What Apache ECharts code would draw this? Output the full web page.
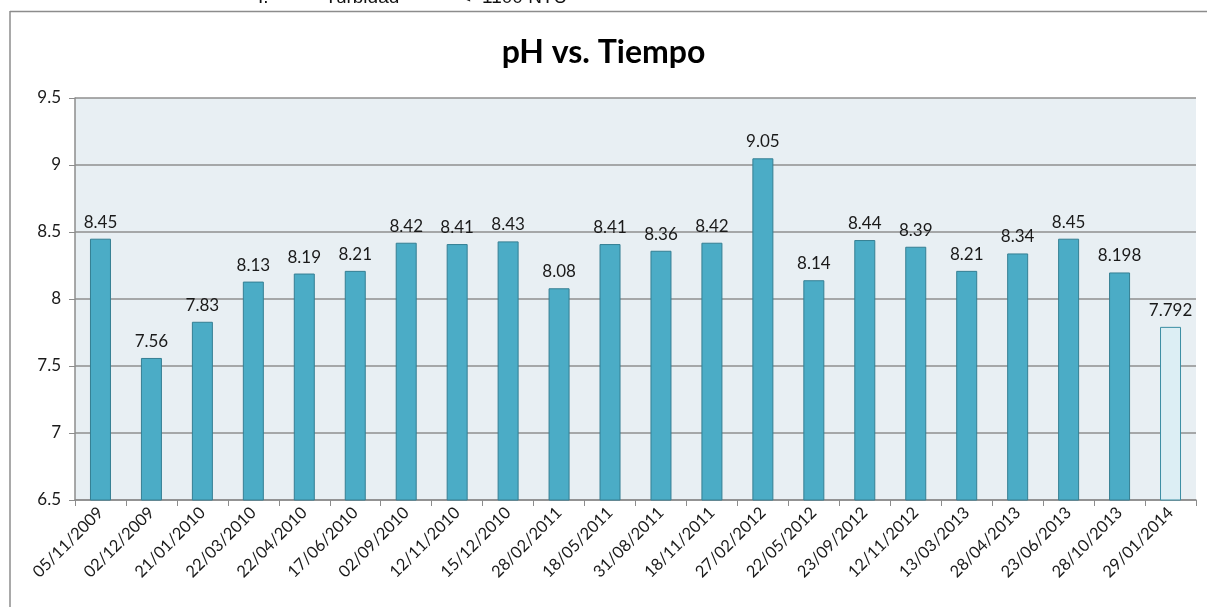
<!DOCTYPE html>
<html>
<head>
<meta charset="utf-8">
<script src="https://cdn.jsdelivr.net/npm/echarts@6/dist/echarts.min.js"></script>
<style>
    html, body { margin: 0; padding: 0; background: #fff; overflow: hidden; }
    #chart { width: 1207px; height: 607px; }
</style>
</head>
<body>
<div id="chart"></div>
<script>
// fechas de muestreo
const fechas = ['05/11/2009', '02/12/2009', '21/01/2010', '22/03/2010', '22/04/2010', '17/06/2010',
    '02/09/2010', '12/11/2010', '15/12/2010', '28/02/2011', '18/05/2011', '31/08/2011',
    '18/11/2011', '27/02/2012', '22/05/2012', '23/09/2012', '12/11/2012', '13/03/2013',
    '28/04/2013', '23/06/2013', '28/10/2013', '29/01/2014'];
const ph = [8.45, 7.56, 7.83, 8.13, 8.19, 8.21, 8.42, 8.41, 8.43, 8.08, 8.41, 8.36,
    8.42, 9.05, 8.14, 8.44, 8.39, 8.21, 8.34, 8.45, 8.198, 7.792];
const yTicks = [6.5, 7, 7.5, 8, 8.5, 9, 9.5];

const font = 'Lato, "Open Sans", sans-serif';
const myChart = echarts.init(document.getElementById('chart'));

const barData = ph.map((v, i) => {
    if (i === ph.length - 1) {
        return { value: v, itemStyle: { color: '#DCEEF4', borderColor: '#3B8EA3' } };
    }
    return v;
});

const frameStyle = { stroke: '#8c8c8c', lineWidth: 1.5 };

const option = {
    animation: false,
    textStyle: { fontFamily: font, color: '#1a1a1a' },
    title: {
        text: 'pH vs. Tiempo',
        left: 'center',
        top: 32,
        textStyle: { fontSize: 32, fontWeight: 'bold', color: '#000', fontFamily: font }
    },
    graphic: [
        // marco del gráfico (solo arriba e izquierda son visibles)
        { type: 'line', shape: { x1: 10, y1: 11.5, x2: 1207, y2: 11.5 }, style: frameStyle },
        { type: 'line', shape: { x1: 10, y1: 11, x2: 10, y2: 607 }, style: frameStyle },
        // texto del documento recortado arriba
        { type: 'text', left: 258, top: -12, style: { text: 'I.', fontSize: 19, fill: '#111', fontFamily: 'Liberation Sans' } },
        { type: 'text', left: 325, top: -12, style: { text: 'Turbidad', fontSize: 19, fill: '#111', fontFamily: 'Liberation Sans' } },
        { type: 'text', left: 460, top: -12, style: { text: '<', fontSize: 19, fill: '#111', fontFamily: 'Liberation Sans' } },
        { type: 'text', left: 482, top: -12, style: { text: '1100 NTU', fontSize: 19, fill: '#111', fontFamily: 'Liberation Sans' } }
    ],
    grid: {
        left: 75,
        right: 11,
        top: 98,
        bottom: 107,
        show: true,
        backgroundColor: '#E8EFF3',
        borderWidth: 0
    },
    xAxis: {
        type: 'category',
        data: fechas,
        axisLine: { lineStyle: { color: '#8c8c8c', width: 1.5 } },
        axisTick: { show: true, length: 6, lineStyle: { color: '#8c8c8c' } },
        axisLabel: { rotate: 45, fontSize: 16.5, color: '#1a1a1a', margin: 10, interval: 0 }
    },
    yAxis: {
        type: 'value',
        min: 6.5,
        max: 9.5,
        interval: 0.5,
        axisLine: { show: true, lineStyle: { color: '#8c8c8c', width: 1.5 } },
        axisTick: { show: true, length: 6, lineStyle: { color: '#8c8c8c' } },
        axisLabel: {
            fontSize: 17, color: '#1a1a1a', margin: 14,
            formatter: v => yTicks.includes(v) ? String(v) : ''
        },
        splitLine: { lineStyle: { color: '#8f8f8f', width: 1.5 } }
    },
    series: [{
        type: 'bar',
        data: barData,
        barWidth: 21,
        itemStyle: { color: '#4BACC6', borderColor: '#357F93', borderWidth: 1 },
        label: {
            show: true,
            position: 'top',
            distance: 8,
            fontSize: 17,
            color: '#1a1a1a',
            fontFamily: font
        }
    }]
};
myChart.setOption(option);
window.addEventListener('resize', function () {
    myChart.resize();
});
</script>
</body>
</html>
